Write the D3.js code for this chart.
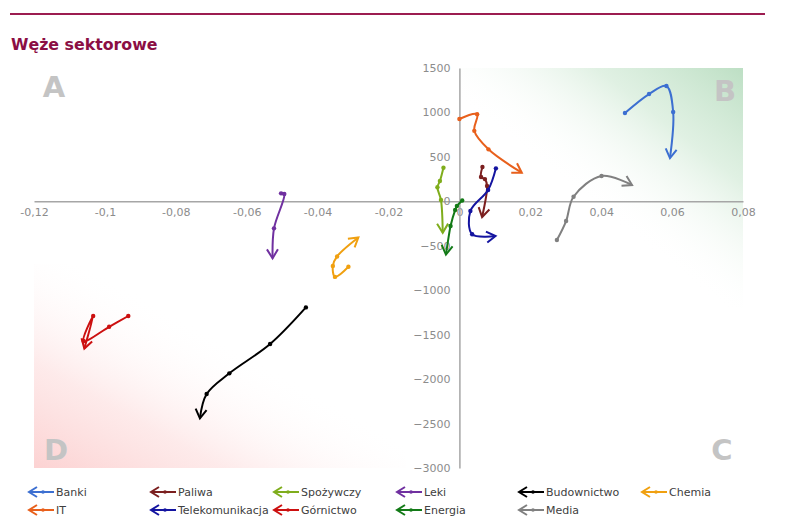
<!DOCTYPE html>
<html><head><meta charset="utf-8">
<script src="https://cdn.jsdelivr.net/npm/d3@7"></script>
<style>body{margin:0;background:#fff}svg{display:block;font-family:"DejaVu Sans",Verdana,sans-serif}</style>
</head><body><svg id="c" width="800" height="521"></svg>
<script>
// ---- data ----
const seriesNames = ["Banki","IT","Paliwa","Telekomunikacja","Spożywczy","Górnictwo","Leki","Energia","Budownictwo","Media","Chemia"];
const seriesColors = ["#3c6fd1","#e8601c","#7b1f1f","#1414a0","#7fad1c","#cc1010","#7030a0","#137a17","#000000","#808080","#f0a010"];
const bankiX = [0.0467,0.0535,0.0584,0.0603,0.0594];
const bankiY = [993,1207,1297,1005,487];
const itX = [0.0000,0.0050,0.0042,0.0082,0.0176];
const itY = [926,979,793,585,322];
const paliwaX = [0.0065,0.0061,0.0072,0.0078,0.0064];
const paliwaY = [386,273,250,172,-177];
const telekomX = [0.0103,0.0081,0.0031,0.0036,0.0102];
const telekomY = [371,127,-109,-370,-390];
const spozywczyX = [-0.0045,-0.0055,-0.0062,-0.0052,-0.0047];
const spozywczyY = [378,228,158,15,-353];
const gornictwoX = [-0.0934,-0.0988,-0.1060,-0.1033,-0.1058];
const gornictwoY = [-1290,-1411,-1572,-1290,-1656];
const lekiX = [-0.0503,-0.0494,-0.0523,-0.0527];
const lekiY = [90,82,-304,-641];
const energiaX = [0.0008,-0.0007,-0.0012,-0.0025,-0.0038];
const energiaY = [9,-53,-98,-278,-599];
const budownictwoX = [-0.0433,-0.0534,-0.0649,-0.0713,-0.0732];
const budownictwoY = [-1193,-1605,-1935,-2168,-2441];
const mediaX = [0.0275,0.0301,0.0322,0.0401,0.0487];
const mediaY = [-435,-222,52,285,183];
const chemiaX = [-0.0313,-0.0351,-0.0357,-0.0345,-0.0285];
const chemiaY = [-736,-850,-727,-620,-407];
const xTicks = [-0.12,-0.1,-0.08,-0.06,-0.04,-0.02,0,0.02,0.04,0.06,0.08];
const yTicks = [1500,1000,500,0,-500,-1000,-1500,-2000,-2500,-3000];
const legendRow1 = ["Banki","Paliwa","Spożywczy","Leki","Budownictwo","Chemia"];
const legendRow2 = ["IT","Telekomunikacja","Górnictwo","Energia","Media"];

const allX = [bankiX,itX,paliwaX,telekomX,spozywczyX,gornictwoX,lekiX,energiaX,budownictwoX,mediaX,chemiaX];
const allY = [bankiY,itY,paliwaY,telekomY,spozywczyY,gornictwoY,lekiY,energiaY,budownictwoY,mediaY,chemiaY];
const series = seriesNames.map((n,i)=>({name:n,color:seriesColors[i],pts:allX[i].map((x,j)=>[x,allY[i][j]])}));

// ---- drawing ----
const svg = d3.select("#c");
const x = d3.scaleLinear().domain([-0.12,0.08]).range([34,743]);
const y = d3.scaleLinear().domain([-3000,1500]).range([468,68]);
const defs = svg.append("defs");

// green quadrant B shading: fades from top-right corner towards lower-left
const gx0 = x(0.08), gy0 = y(1500);
const gG = defs.append("linearGradient").attr("id","gGreen").attr("gradientUnits","userSpaceOnUse")
  .attr("x1",gx0).attr("y1",gy0).attr("x2",gx0-222*0.56).attr("y2",gy0+283*0.56);
gG.append("stop").attr("offset","0%").attr("stop-color","#bddfc4").attr("stop-opacity",1);
gG.append("stop").attr("offset","45%").attr("stop-color","#d6ecda").attr("stop-opacity",0.75);
gG.append("stop").attr("offset","100%").attr("stop-color","#ffffff").attr("stop-opacity",0);
// red quadrant D shading: fades from bottom-left corner towards upper-right
const rx0 = x(-0.12), ry0 = y(-3000);
const gR = defs.append("linearGradient").attr("id","gRed").attr("gradientUnits","userSpaceOnUse")
  .attr("x1",rx0).attr("y1",ry0).attr("x2",rx0+198*0.5).attr("y2",ry0-356*0.5);
gR.append("stop").attr("offset","0%").attr("stop-color","#fcd2d2").attr("stop-opacity",1);
gR.append("stop").attr("offset","45%").attr("stop-color","#fde3e3").attr("stop-opacity",0.75);
gR.append("stop").attr("offset","100%").attr("stop-color","#ffffff").attr("stop-opacity",0);

svg.append("rect").attr("x",x(0)).attr("y",y(1500)).attr("width",x(0.08)-x(0)).attr("height",y(-1200)-y(1500)).attr("fill","url(#gGreen)");
svg.append("rect").attr("x",x(-0.12)).attr("y",y(-700)).attr("width",x(-0.015)-x(-0.12)).attr("height",y(-3000)-y(-700)).attr("fill","url(#gRed)");

// top rule + title
svg.append("line").attr("x1",10).attr("x2",765).attr("y1",14).attr("y2",14).attr("stroke","#9c1c50").attr("stroke-width",2);
svg.append("text").attr("x",11).attr("y",50).attr("font-size",15.8).attr("font-weight","bold").attr("fill","#8b0e44").text("Węże sektorowe");

// quadrant letters
const letters = [["A",x(-0.12)+20,y(1500)+29],["B",725,y(1500)+33],["C",722,y(-3000)-8],["D",56,y(-3000)-8]];
svg.selectAll("text.q").data(letters).join("text").attr("class","q")
  .attr("x",d=>d[1]).attr("y",d=>d[2]).attr("text-anchor","middle")
  .attr("font-size",29).attr("font-weight","bold").attr("fill","#c4c4c4").text(d=>d[0]);

// axes
const fmt = v => (Math.round(v*100)/100).toString().replace(".",",");
const xa = svg.append("g").attr("transform",`translate(0,${y(0)})`)
  .call(d3.axisBottom(x).tickValues(xTicks).tickSize(0).tickPadding(7).tickFormat(fmt));
const ya = svg.append("g").attr("transform",`translate(${x(0)},0)`)
  .call(d3.axisLeft(y).tickValues(yTicks).tickSize(0).tickPadding(9).tickFormat(d3.format("d")));
[xa,ya].forEach(a=>{
  a.select(".domain").attr("stroke","#a6a6a6").attr("stroke-width",1.5);
  a.selectAll("text").attr("fill","#8c8c8c").attr("font-size",11).attr("font-family","DejaVu Sans, Verdana, sans-serif");
});

// arrow markers
series.forEach((s,i)=>{
  const m = defs.append("marker").attr("id","ar"+i).attr("markerUnits","userSpaceOnUse")
    .attr("markerWidth",24).attr("markerHeight",24).attr("viewBox","-12 -12 24 24")
    .attr("refX",0).attr("refY",0).attr("orient","auto");
  m.append("path").attr("d","M-9,-5.5L0,0L-9,5.5").attr("fill","none").attr("stroke",s.color)
    .attr("stroke-width",2).attr("stroke-linejoin","miter");
});

const line = d3.line().x(d=>x(d[0])).y(d=>y(d[1])).curve(d3.curveCatmullRom.alpha(0.5));
series.forEach((s,i)=>{
  const g = svg.append("g");
  g.append("path").attr("d",line(s.pts)).attr("fill","none").attr("stroke",s.color)
    .attr("stroke-width",2).attr("marker-end",`url(#ar${i})`);
  g.selectAll("circle").data(s.pts.slice(0,-1)).join("circle")
    .attr("cx",d=>x(d[0])).attr("cy",d=>y(d[1])).attr("r",2.2).attr("fill",s.color);
});

// legend
const colX = [28,150,273,396,518,641];
const drawLegend = (names,row)=>{
  names.forEach((n,k)=>{
    const i = seriesNames.indexOf(n);
    const c = seriesColors[i];
    const lx = colX[k], ly = row;
    const g = svg.append("g");
    g.append("line").attr("x1",lx+26).attr("x2",lx+1).attr("y1",ly).attr("y2",ly).attr("stroke",c).attr("stroke-width",2);
    g.append("path").attr("d",`M${lx+9},${ly-5}L${lx+1},${ly}L${lx+9},${ly+5}`).attr("fill","none").attr("stroke",c).attr("stroke-width",2);
    g.append("circle").attr("cx",lx+15).attr("cy",ly).attr("r",1.8).attr("fill",c);
    g.append("text").attr("x",lx+28).attr("y",ly+4).attr("font-size",11).attr("fill","#404040").text(n);
  });
};
drawLegend(legendRow1,492);
drawLegend(legendRow2,510);
</script></body></html>
